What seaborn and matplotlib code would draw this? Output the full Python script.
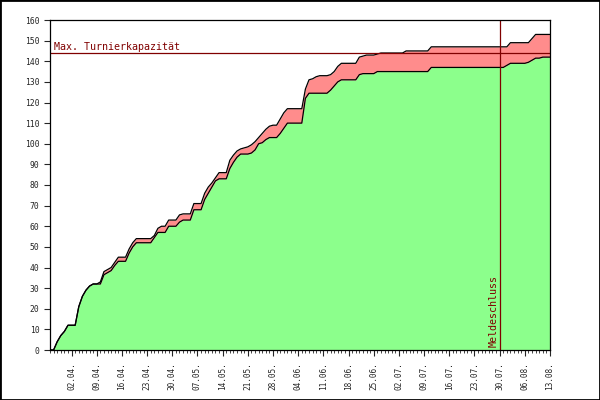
import matplotlib
matplotlib.use("Agg")
import matplotlib.pyplot as plt
import matplotlib.dates as mdates
import numpy as np
import pandas as pd
import seaborn as sns

# registrations per day, starting 27.03.
start_date = "2013-03-27"

# all registrations (top of red band)
registered = [
    0, 0, 4, 7, 9, 12, 12, 12, 21, 26,
    29, 31, 32, 32, 33, 38, 39, 40, 42.5, 45,
    45, 45, 49, 52, 54, 54, 54, 54, 54, 55.5,
    59, 60, 60, 63, 63, 63, 65.5, 66, 66, 66,
    71, 71, 71, 76, 79, 81, 83.5, 86, 86, 86,
    92, 94.5, 96.5, 97.5, 98, 98.5, 99.5, 101, 103, 105,
    107, 108.5, 109, 109, 112, 115, 117, 117, 117, 117,
    117, 126.5, 131, 131.5, 132.5, 133, 133, 133, 133.5, 135,
    137.5, 139, 139, 139, 139, 139, 142, 142.5, 143, 143,
    143, 143.5, 144, 144, 144, 144, 144, 144, 144, 145,
    145, 145, 145, 145, 145, 145, 147, 147, 147, 147,
    147, 147, 147, 147, 147, 147, 147, 147, 147, 147,
    147, 147, 147, 147, 147, 147, 147, 147, 149, 149,
    149, 149, 149, 149, 151, 153, 153, 153, 153, 153,
]

# confirmed registrations (top of green area)
confirmed = [
    0, 0, 4, 7, 9, 12, 12, 12, 21, 26,
    29, 31, 32, 32, 32, 36.5, 37.5, 38.5, 41, 43,
    43, 43, 47, 50, 52, 52, 52, 52, 52, 54.5,
    57, 57, 57, 60, 60, 60, 62, 63, 63, 63,
    68, 68, 68, 73, 76, 79, 82, 83, 83, 83,
    88, 91, 93.5, 95, 95, 95, 95.5, 97, 100, 100.5,
    102, 103, 103, 103, 105, 107.5, 110, 110, 110, 110,
    110, 122, 124.5, 124.5, 124.5, 124.5, 124.5, 124.5, 126, 128,
    130, 131, 131, 131, 131, 131, 133.5, 134, 134, 134,
    134, 135, 135, 135, 135, 135, 135, 135, 135, 135,
    135, 135, 135, 135, 135, 135, 137, 137, 137, 137,
    137, 137, 137, 137, 137, 137, 137, 137, 137, 137,
    137, 137, 137, 137, 137, 137, 137, 138, 139, 139,
    139, 139, 139, 139.5, 140.5, 141.5, 141.5, 142, 142, 142,
]

max_capacity = 144
deadline = "2013-07-30"
y_ticks = list(range(0, 161, 10))

dates = pd.date_range(start_date, periods=len(registered), freq="D")
df = pd.DataFrame({"date": dates, "registered": registered, "confirmed": confirmed})

sns.set_style("white")
plt.rcParams["font.family"] = ["DejaVu Sans Mono"]

fig = plt.figure(figsize=(6, 4), dpi=100)
ax = fig.add_axes([50 / 600, 50 / 400, 500 / 600, 330 / 400])

green = "#8cff8c"
red = "#ff8c8c"
darkred = "#800000"

ax.fill_between(df["date"], 0, df["confirmed"], color=green, lw=0)
ax.fill_between(df["date"], df["confirmed"], df["registered"], color=red, lw=0)
sns.lineplot(data=df, x="date", y="registered", color="black", lw=0.9, ax=ax)
sns.lineplot(data=df, x="date", y="confirmed", color="black", lw=0.9, ax=ax)

# capacity and deadline markers
ax.axhline(max_capacity, color=darkred, lw=0.9)
ax.text(dates[1], max_capacity + 0.3, "Max. Turnierkapazität", color=darkred,
        fontsize=7.2, ha="left", va="bottom")
dl = pd.Timestamp(deadline)
ax.axvline(dl, color=darkred, lw=0.9)
ax.text(dl - pd.Timedelta(hours=6), 1.5, "Meldeschluss", color=darkred, fontsize=7.2,
        rotation=90, ha="right", va="bottom")

ax.set_xlim(dates[0], dates[-1])
ax.set_ylim(0, 160)
ax.set_yticks(y_ticks)
ax.set_xticks(dates[6::7])
ax.xaxis.set_major_formatter(mdates.DateFormatter("%d.%m."))
ax.xaxis.set_minor_locator(mdates.DayLocator())
ax.set_xlabel("")
ax.set_ylabel("")

ax.tick_params(axis="y", which="major", direction="out", length=4, width=0.8,
               labelsize=5.8, pad=3.5, left=True)
ax.tick_params(axis="x", which="major", direction="out", length=4, width=0.8,
               labelsize=5.6, pad=5, labelrotation=90, bottom=True)
ax.tick_params(axis="x", which="minor", direction="out", length=2, width=0.6,
               bottom=True)
for s in ax.spines.values():
    s.set_color("black")
    s.set_linewidth(0.9)

fig.patches.append(plt.Rectangle((0, 0), 1, 1, transform=fig.transFigure,
                                 fill=False, ec="black", lw=2))

fig.savefig("out.png", dpi=100)
plt.close(fig)
